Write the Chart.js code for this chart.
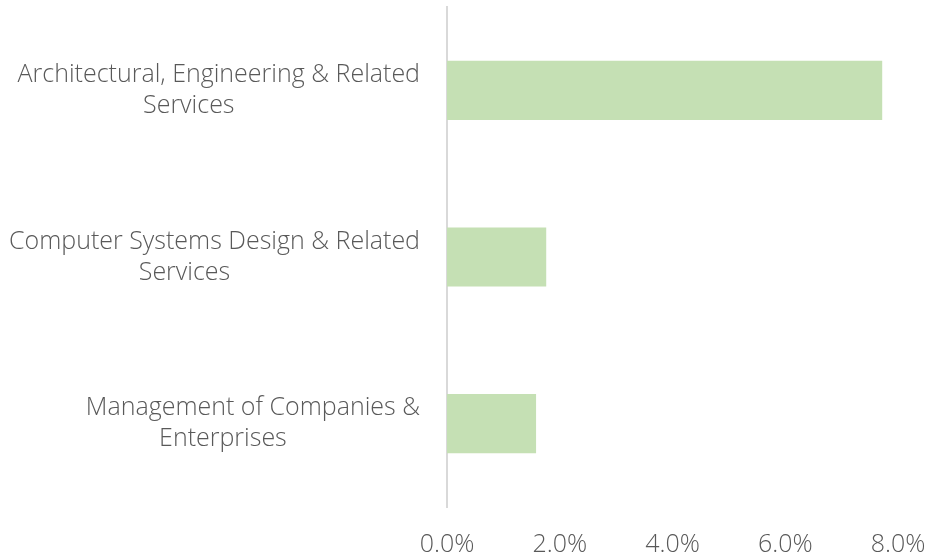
<!DOCTYPE html>
<html>
<head>
<meta charset="utf-8">
<script src="https://cdn.jsdelivr.net/npm/chart.js@4.4.0/dist/chart.umd.min.js"></script>
<style>
    html, body { margin: 0; padding: 0; background: #fff; }
    #wrap { width: 933px; height: 560px; }
</style>
</head>
<body>
<div id="wrap"><canvas id="chart"></canvas></div>
<script>
// Chart data
const categories = [
    ['Architectural, Engineering & Related', 'Services'],
    ['Computer Systems Design & Related', 'Services'],
    ['Management of Companies &', 'Enterprises']
];
const shareValues = [7.72, 1.76, 1.58];
const xTicks = [0, 2, 4, 6, 8];

const textColor = '#595959';
const barColor = '#c5e0b4';
const axisColor = '#d9d9d9';
const labelFont = "300 25px 'Open Sans'";
const lineGap = 31;

// Category labels: first line right aligned, wrapped line centred under it
const categoryLabels = {
    id: 'categoryLabels',
    afterDraw(chart) {
        const ctx = chart.ctx;
        const yScale = chart.scales.y;
        const right = chart.chartArea.left - 27;
        ctx.save();
        ctx.font = labelFont;
        ctx.fillStyle = textColor;
        ctx.textBaseline = 'middle';
        categories.forEach((lines, i) => {
            const cy = yScale.getPixelForValue(i);
            const top = cy - (lines.length - 1) * lineGap / 2;
            const w1 = ctx.measureText(lines[0]).width;
            const mid = right - w1 / 2 - 30;
            lines.forEach((line, k) => {
                if (k === 0) {
                    ctx.textAlign = 'right';
                    ctx.fillText(line, right, top);
                } else {
                    ctx.textAlign = 'center';
                    ctx.fillText(line, mid, top + k * lineGap);
                }
            });
        });
        ctx.restore();
    }
};

document.addEventListener('DOMContentLoaded', function() {
    const ctx = document.getElementById('chart').getContext('2d');
    new Chart(ctx, {
        type: 'bar',
        data: {
            labels: categories,
            datasets: [{
                data: shareValues,
                backgroundColor: barColor,
                borderWidth: 0,
                categoryPercentage: 1,
                barPercentage: 0.355
            }]
        },
        options: {
            indexAxis: 'y',
            responsive: true,
            maintainAspectRatio: false,
            animation: false,
            layout: {
                padding: { left: 447, top: 7, right: 0, bottom: 0 }
            },
            plugins: {
                legend: { display: false },
                tooltip: { enabled: false }
            },
            scales: {
                x: {
                    min: 0,
                    max: 8,
                    afterBuildTicks: function(scale) {
                        scale.ticks = xTicks.map(v => ({ value: v }));
                    },
                    afterFit: function(scale) {
                        scale.height = 53;
                        scale.paddingRight = 35;
                    },
                    grid: { display: false, drawTicks: false },
                    border: { display: false },
                    ticks: {
                        color: textColor,
                        padding: 23,
                        maxRotation: 0,
                        font: { family: "'Open Sans'", size: 25, weight: '300' },
                        callback: function(value) {
                            return value.toFixed(1) + '%';
                        }
                    }
                },
                y: {
                    grid: { display: false, drawTicks: false },
                    border: { display: true, color: axisColor, width: 2 },
                    ticks: { display: false }
                }
            }
        },
        plugins: [categoryLabels]
    });
});
</script>
</body>
</html>
